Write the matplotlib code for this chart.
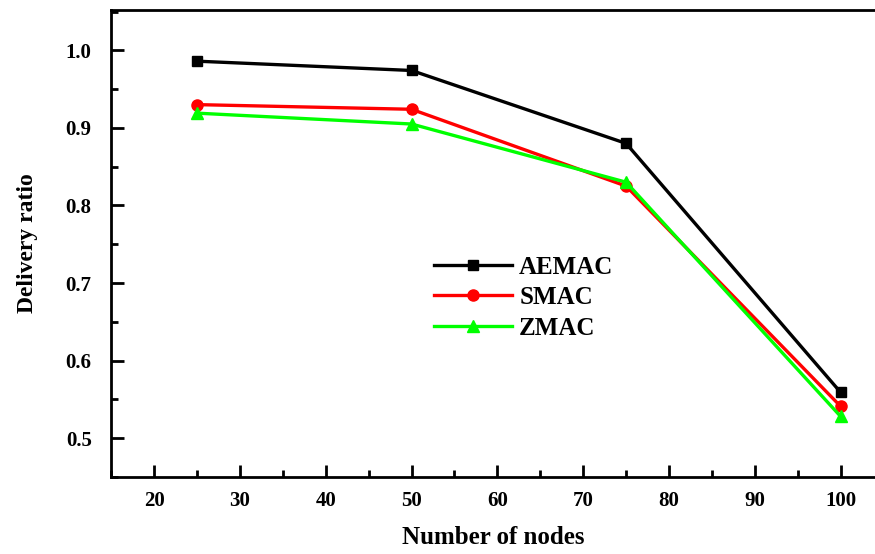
import matplotlib.pyplot as plt
from matplotlib.ticker import MultipleLocator

# delivery ratio vs. network size
nodes = [25, 50, 75, 100]
aemac = [0.986, 0.974, 0.880, 0.559]
smac = [0.930, 0.924, 0.825, 0.541]
zmac = [0.919, 0.905, 0.830, 0.528]

plt.rcParams['font.family'] = ['Liberation Serif', 'DejaVu Serif']
plt.rcParams['font.weight'] = 'bold'

fig = plt.figure(figsize=(8.75, 5.54), dpi=100)
ax = fig.add_axes([0.127, 0.139, 0.873, 0.843])

ax.plot(nodes, aemac, color='black', lw=2.4, marker='s', ms=7, label='AEMAC')
ax.plot(nodes, smac, color='#ff0000', lw=2.4, marker='o', ms=8, label='SMAC')
ax.plot(nodes, zmac, color='#00ff00', lw=2.4, marker='^', ms=9, label='ZMAC')

ax.set_xlim(15, 104)
ax.set_ylim(0.45, 1.052)
ax.xaxis.set_major_locator(MultipleLocator(10))
ax.xaxis.set_minor_locator(MultipleLocator(5))
ax.yaxis.set_major_locator(MultipleLocator(0.1))
ax.yaxis.set_minor_locator(MultipleLocator(0.05))
ax.yaxis.set_major_formatter(plt.FormatStrFormatter('%.1f'))

ax.spines['right'].set_visible(False)
for s in ['left', 'top', 'bottom']:
    ax.spines[s].set_linewidth(2)

ax.tick_params(which='both', direction='in', width=2, labelsize=15, top=False, right=False)
ax.tick_params(which='major', length=9, pad=10)
ax.tick_params(axis='y', which='major', pad=14)
ax.tick_params(which='minor', length=5)

ax.set_xlabel('Number of nodes', fontsize=18, fontweight='bold', labelpad=11)
ax.set_ylabel('Delivery ratio', fontsize=17, fontweight='bold', labelpad=20)

leg = ax.legend(loc='upper left', bbox_to_anchor=(0.423, 0.474), frameon=False,
                fontsize=18, handlelength=3.1, handletextpad=0.3,
                labelspacing=0.3, borderaxespad=0, borderpad=0)

fig.savefig('out.png', dpi=100)
